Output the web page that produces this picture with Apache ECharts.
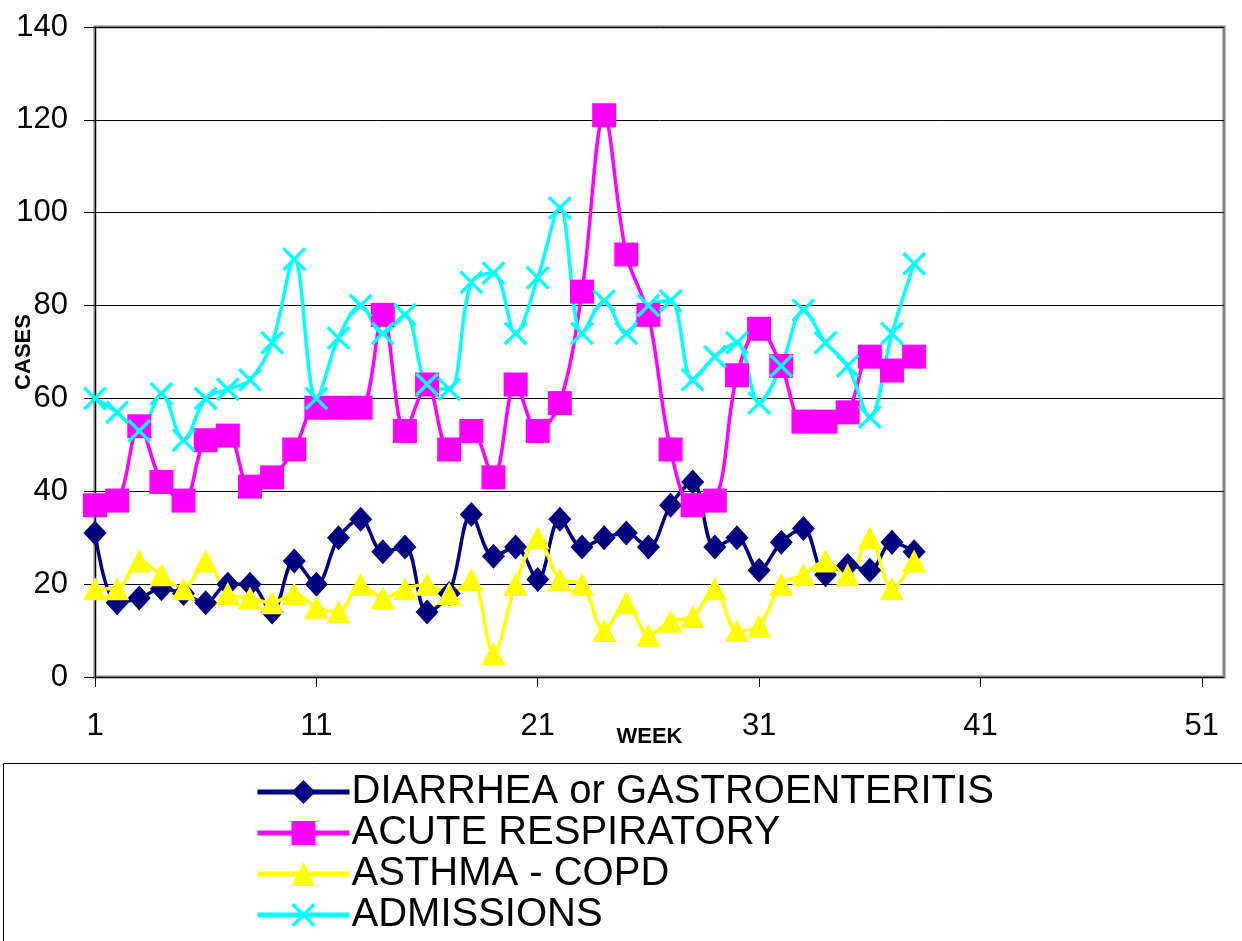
<!DOCTYPE html>
<html>
<head>
<meta charset="utf-8">
<script src="https://cdn.jsdelivr.net/npm/echarts@6/dist/echarts.min.js"></script>
<style>
  html, body { margin: 0; padding: 0; background: #fff; }
  #main { width: 1242px; height: 941px; }
</style>
</head>
<body>
<div id="main"></div>
<script>
// week numbers on the x axis
var weeks = ['1','2','3','4','5','6','7','8','9','10','11','12','13','14','15','16','17','18','19','20',
    '21','22','23','24','25','26','27','28','29','30','31','32','33','34','35','36','37','38','39','40',
    '41','42','43','44','45','46','47','48','49','50','51','52'];

// cases per week
var diarrhea = [31,16,17,19,18,16,20,20,14,25,20,30,34,27,28,14,18,35,26,28,21,34,28,30,31,28,37,42,28,30,23,29,32,22,24,23,29,27];
var acuteResp = [37,38,54,42,38,51,52,41,43,49,58,58,58,78,53,63,49,53,43,63,53,59,83,121,91,78,49,37,38,65,75,67,55,55,57,69,66,69];
var asthma = [19,19,25,22,19,25,18,17,16,18,15,14,20,17,19,20,18,21,5,20,30,21,20,10,16,9,12,13,19,10,11,20,22,25,22,30,19,25];
var admissions = [60,57,53,61,51,60,62,64,72,90,60,73,80,74,78,63,62,85,87,74,86,101,74,81,74,80,81,64,69,72,59,67,79,72,67,56,74,89];

var seriesNames = ['DIARRHEA or GASTROENTERITIS', 'ACUTE RESPIRATORY', 'ASTHMA - COPD', 'ADMISSIONS'];

var FONT = 'Arial, "Liberation Sans", sans-serif';
// X marker as a filled shape
var xMark = 'path://M0,1L1,0L5,4L9,0L10,1L6,5L10,9L9,10L5,6L1,10L0,9L4,5Z';

function makeSeries(name, data, color, symbol, size) {
    return {
        name: name,
        type: 'line',
        data: data,
        smooth: 0.35,
        symbol: symbol,
        symbolSize: size,
        showAllSymbol: true,
        lineStyle: { color: color, width: 3.5 },
        itemStyle: { color: color, borderWidth: 0 },
        emphasis: { disabled: true }
    };
}

var myChart = echarts.init(document.getElementById('main'));
var option = {
    animation: false,
    backgroundColor: '#fff',
    grid: {
        left: 95,
        top: 27,
        right: 18,
        bottom: 264,
        containLabel: false,
        outerBoundsMode: 'none',
        show: true,
        borderColor: '#808080',
        borderWidth: 3
    },
    // legend frame
    graphic: [{
        type: 'rect',
        shape: { x: 3.5, y: 763.5, width: 1400, height: 400 },
        style: { fill: 'none', stroke: '#000', lineWidth: 1 },
        z: -1
    }],
    xAxis: {
        type: 'category',
        data: weeks,
        boundaryGap: false,
        name: 'WEEK',
        nameLocation: 'middle',
        nameGap: 49,
        nameMoveOverlap: false,
        nameTextStyle: { fontFamily: FONT, fontSize: 22, fontWeight: 'bold', color: '#000', padding: [0, 20, 0, 0] },
        axisLine: { lineStyle: { color: '#000', width: 1 } },
        axisTick: { show: true, interval: 9, length: 10, lineStyle: { color: '#000' } },
        axisLabel: { interval: 9, margin: 34, fontFamily: FONT, fontSize: 31, color: '#000' },
        splitLine: { show: false }
    },
    yAxis: {
        type: 'value',
        min: 0,
        max: 140,
        interval: 20,
        name: 'CASES',
        nameLocation: 'middle',
        nameGap: 60,
        nameMoveOverlap: false,
        nameTextStyle: { fontFamily: FONT, fontSize: 22, fontWeight: 'bold', color: '#000' },
        axisLine: { show: true, lineStyle: { color: '#000', width: 1 } },
        axisTick: { show: true, length: 11, lineStyle: { color: '#000' } },
        axisLabel: { margin: 27, fontFamily: FONT, fontSize: 31, color: '#000' },
        splitLine: { show: true, lineStyle: { color: '#000', width: 1 } }
    },
    legend: {
        orient: 'vertical',
        left: 255,
        top: 772,
        height: 400,
        padding: 0,
        itemWidth: 92,
        itemHeight: 30,
        itemGap: 1,
        data: seriesNames,
        lineStyle: { width: 5 },
        textStyle: { fontFamily: FONT, fontSize: 40, lineHeight: 40, color: '#000', padding: [0, 0, 0, -3] }
    },
    series: [
        makeSeries(seriesNames[0], diarrhea, '#000080', 'diamond', [23, 25]),
        makeSeries(seriesNames[1], acuteResp, '#FF00FF', 'rect', 24),
        makeSeries(seriesNames[2], asthma, '#FFFF00', 'triangle', [24, 23]),
        makeSeries(seriesNames[3], admissions, '#00FFFF', xMark, 24)
    ]
};
myChart.setOption(option);
</script>
</body>
</html>
